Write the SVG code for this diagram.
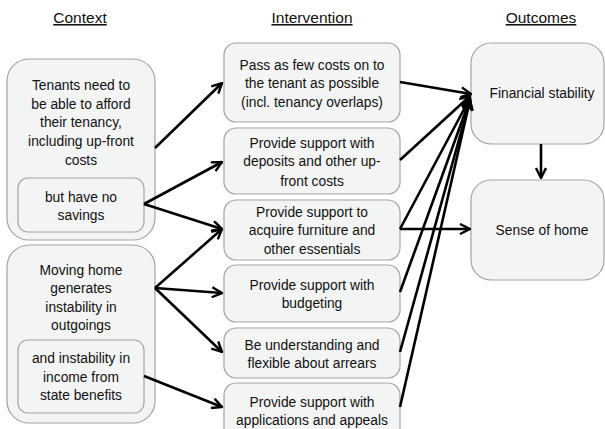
<svg xmlns="http://www.w3.org/2000/svg" width="605" height="429" viewBox="0 0 605 429">
<defs>
<marker id="arr" markerUnits="userSpaceOnUse" viewBox="0 0 12 12" refX="11" refY="6" markerWidth="12" markerHeight="12" orient="auto">
<path d="M1,1 L11,6 L1,11" fill="none" stroke="#000" stroke-width="2.4" stroke-linejoin="miter"/>
</marker>
</defs>
<style>
rect{fill:#f3f4f4;stroke:#a3a3a3;stroke-width:1.2}
text{font-family:"Liberation Sans",Arial,sans-serif;font-size:13.8px;fill:#111;text-anchor:middle}
.h{font-size:15.5px;text-decoration:underline}
#connectors line{stroke:#000;stroke-width:2.6;marker-end:url(#arr)}
</style>
<rect width="605" height="429" style="fill:#fff;stroke:none"/>
<g id="headers">
<text class="h" x="80" y="23">Context</text>
<text class="h" x="312" y="23">Intervention</text>
<text class="h" x="541" y="23">Outcomes</text>
</g>
<g id="ctx1">
<rect x="7" y="59" width="148" height="181" rx="22"/>
<text x="81" y="90">Tenants need to</text>
<text x="81" y="109">be able to afford</text>
<text x="81" y="127">their tenancy,</text>
<text x="81" y="146">including up-front</text>
<text x="81" y="165">costs</text>
</g>
<g id="ctx1b">
<rect x="18" y="178" width="126" height="54" rx="10"/>
<text x="81" y="202">but have no</text>
<text x="81" y="220">savings</text>
</g>
<g id="ctx2">
<rect x="7" y="245" width="148" height="178" rx="22"/>
<text x="81" y="275">Moving home</text>
<text x="81" y="293">generates</text>
<text x="81" y="312">instability in</text>
<text x="81" y="330">outgoings</text>
</g>
<g id="ctx2b">
<rect x="18" y="340" width="126" height="73" rx="10"/>
<text x="81" y="363">and instability in</text>
<text x="81" y="382">income from</text>
<text x="81" y="400">state benefits</text>
</g>
<g id="int1">
<rect x="224" y="43" width="176" height="79" rx="12"/>
<text x="312" y="70">Pass as few costs on to</text>
<text x="312" y="88">the tenant as possible</text>
<text x="312" y="107">(incl. tenancy overlaps)</text>
</g>
<g id="int2">
<rect x="224" y="128" width="176" height="66" rx="12"/>
<text x="312" y="148">Provide support with</text>
<text x="312" y="166">deposits and other up-</text>
<text x="312" y="186">front costs</text>
</g>
<g id="int3">
<rect x="224" y="200" width="176" height="60" rx="12"/>
<text x="312" y="217">Provide support to</text>
<text x="312" y="235">acquire furniture and</text>
<text x="312" y="254">other essentials</text>
</g>
<g id="int4">
<rect x="224" y="265" width="176" height="57" rx="12"/>
<text x="312" y="290">Provide support with</text>
<text x="312" y="308">budgeting</text>
</g>
<g id="int5">
<rect x="224" y="328" width="176" height="50" rx="12"/>
<text x="312" y="350">Be understanding and</text>
<text x="312" y="368">flexible about arrears</text>
</g>
<g id="int6">
<rect x="224" y="383" width="176" height="60" rx="12"/>
<text x="312" y="407">Provide support with</text>
<text x="312" y="425">applications and appeals</text>
</g>
<g id="out1">
<rect x="471" y="43" width="133" height="101" rx="20"/>
<text x="542" y="98">Financial stability</text>
</g>
<g id="out2">
<rect x="471" y="180" width="133" height="100" rx="20"/>
<text x="542" y="235">Sense of home</text>
</g>
<g id="connectors">
<line x1="155" y1="148" x2="222" y2="83"/>
<line x1="144" y1="204" x2="222" y2="162"/>
<line x1="144" y1="204" x2="222" y2="229"/>
<line x1="155" y1="288" x2="222" y2="229"/>
<line x1="155" y1="288" x2="222" y2="293"/>
<line x1="155" y1="288" x2="222" y2="352"/>
<line x1="144" y1="376" x2="222" y2="407"/>
<line x1="400" y1="82" x2="471" y2="94"/>
<line x1="400" y1="160" x2="470" y2="96"/>
<line x1="400" y1="229" x2="470" y2="98"/>
<line x1="400" y1="292" x2="470" y2="99"/>
<line x1="400" y1="352" x2="470" y2="100"/>
<line x1="400" y1="407" x2="470" y2="100"/>
<line x1="400" y1="229" x2="470" y2="229"/>
<line x1="541" y1="144" x2="541" y2="178"/>
</g>
</svg>
